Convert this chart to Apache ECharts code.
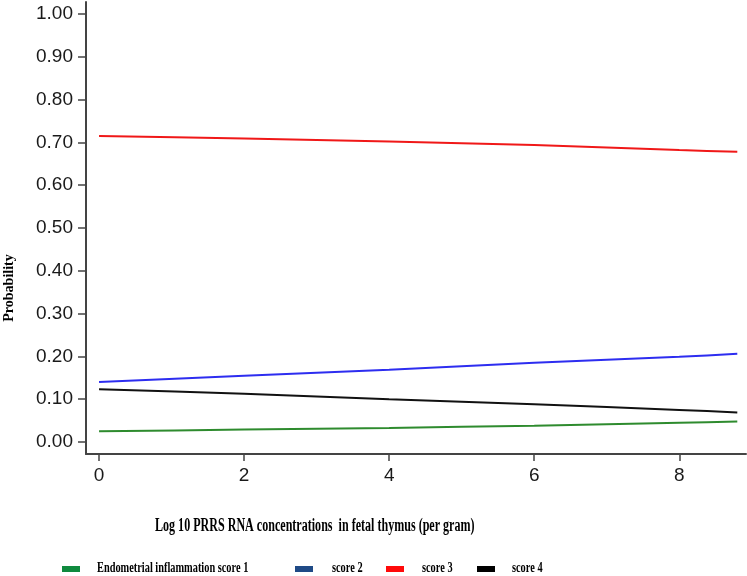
<!DOCTYPE html>
<html>
<head>
<meta charset="utf-8">
<script src="https://cdn.jsdelivr.net/npm/echarts@6/dist/echarts.min.js"></script>
<style>
html,body{margin:0;padding:0;background:#fff;}
#chart{width:747px;height:576px;}
</style>
</head>
<body>
<div id="chart"></div>
<script>
// Data
const xValues = [0, 2, 4, 6, 8, 8.8];
const score1 = [0.025, 0.029, 0.033, 0.038, 0.045, 0.048];
const score2 = [0.140, 0.155, 0.169, 0.185, 0.199, 0.206];
const score3 = [0.715, 0.709, 0.702, 0.694, 0.682, 0.678];
const score4 = [0.123, 0.113, 0.100, 0.088, 0.075, 0.069];
const seriesNames = ['Endometrial inflammation score 1', 'score 2', 'score 3', 'score 4'];
const xTicks = [0, 2, 4, 6, 8];
const yTicks = [0, 0.1, 0.2, 0.3, 0.4, 0.5, 0.6, 0.7, 0.8, 0.9, 1.0];
const xTitle = 'Log 10 PRRS RNA concentrations  in fetal thymus (per gram)';
const yTitle = 'Probability';

const lineColors = ['#2e8b2e', '#2d2df0', '#f01818', '#111111'];
const legendColors = ['#0f8a3e', '#1f4a86', '#ff0a0a', '#000000'];
const seriesData = [score1, score2, score3, score4];

const chart = echarts.init(document.getElementById('chart'));

const series = seriesData.map((vals, i) => ({
  name: seriesNames[i],
  type: 'line',
  showSymbol: false,
  smooth: 0.2,
  data: xValues.map((x, j) => [x, vals[j]]),
  lineStyle: { color: lineColors[i], width: 2 },
  itemStyle: { color: lineColors[i] },
  z: 3
}));

const legendPos = [
  { sx: 62, tx: 97 },
  { sx: 295, tx: 332 },
  { sx: 386, tx: 422 },
  { sx: 477, tx: 512 }
];
const legendGraphics = [];
seriesNames.forEach((n, i) => {
  legendGraphics.push({
    type: 'rect', x: legendPos[i].sx, y: 566,
    shape: { x: 0, y: 0, width: 18, height: 6 },
    style: { fill: legendColors[i] }
  });
  legendGraphics.push({
    type: 'text', x: legendPos[i].tx, y: 568.5, scaleX: 0.69,
    style: {
      text: n, font: 'bold 15px "Liberation Serif"', fill: '#000',
      align: 'left', verticalAlign: 'middle', textAlign: 'left', textVerticalAlign: 'middle'
    }
  });
});

const option = {
  animation: false,
  backgroundColor: '#ffffff',
  grid: { left: 86, right: 1, top: 2, bottom: 122, containLabel: false },
  xAxis: {
    type: 'value',
    min: -0.18, max: 8.92,
    splitLine: { show: false },
    axisLine: { show: true, onZero: false, lineStyle: { color: '#444', width: 2 } },
    axisTick: { show: true, length: 7, customValues: xTicks, lineStyle: { color: '#444', width: 1.5 } },
    axisLabel: {
      customValues: xTicks, margin: 12,
      fontFamily: '"Liberation Sans", Arial', fontSize: 19, color: '#1a1a1a'
    }
  },
  yAxis: {
    type: 'value',
    min: -0.028, max: 1.028,
    splitLine: { show: false },
    axisLine: { show: true, onZero: false, lineStyle: { color: '#444', width: 2 } },
    axisTick: { show: true, length: 8, customValues: yTicks, lineStyle: { color: '#444', width: 1.5 } },
    axisLabel: {
      customValues: yTicks, margin: 13,
      fontFamily: '"Liberation Sans", Arial', fontSize: 19, color: '#1a1a1a',
      formatter: v => v.toFixed(2)
    }
  },
  series: series,
  graphic: [
    {
      type: 'text', x: 155, y: 526, scaleX: 0.67,
      style: {
        text: xTitle, font: 'bold 18px "Liberation Serif"', fill: '#000',
        align: 'left', verticalAlign: 'middle', textAlign: 'left', textVerticalAlign: 'middle'
      }
    },
    {
      type: 'text', x: 9, y: 288, rotation: Math.PI / 2,
      style: {
        text: yTitle, font: 'bold 14px "Liberation Serif"', fill: '#000',
        align: 'center', verticalAlign: 'middle', textAlign: 'center', textVerticalAlign: 'middle'
      }
    }
  ].concat(legendGraphics)
};
chart.setOption(option);
</script>
</body>
</html>
